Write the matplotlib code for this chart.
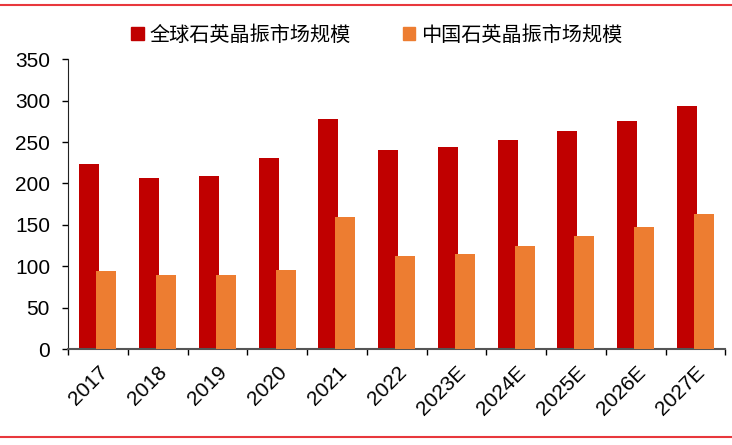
import matplotlib.pyplot as plt
import numpy as np
from matplotlib.lines import Line2D
from matplotlib.patches import Patch

plt.rcParams['font.family'] = ['Liberation Sans', 'Noto Sans CJK SC', 'DejaVu Sans']

years = ['2017', '2018', '2019', '2020', '2021', '2022',
         '2023E', '2024E', '2025E', '2026E', '2027E']
global_size = [223, 207, 209, 231, 278, 240, 244, 252, 264, 276, 293]
china_size = [94, 89, 90, 96, 159, 112, 115, 124, 136, 147, 163]
labels = ['全球石英晶振市场规模', '中国石英晶振市场规模']

RED = '#C00000'
ORANGE = '#ED7D31'
LINE_RED = '#E8383D'

fig = plt.figure(figsize=(7.32, 4.45), dpi=100)
ax = fig.add_axes([0.093, 0.2157, 0.898, 0.651])

x = np.arange(len(years))
w = 0.335
ax.bar(x - 0.145, global_size, width=w, color=RED, zorder=2)
ax.bar(x + 0.14, china_size, width=w, color=ORANGE, zorder=3)

ax.set_xlim(-0.5, len(years) - 0.5)
ax.set_ylim(0, 350)
ax.set_yticks(range(0, 351, 50))
ax.tick_params(axis='y', labelsize=15, length=4.5, width=1, direction='out', pad=8.5)
ax.set_xticks(x)
ax.set_xticklabels(years, rotation=45, ha='right', rotation_mode='anchor', fontsize=15)
ax.tick_params(axis='x', which='major', length=0, pad=10)
ax.set_xticks(np.arange(-0.5, len(years), 1), minor=True)
ax.tick_params(axis='x', which='minor', length=4, width=1, direction='out')

for s in ['top', 'right']:
    ax.spines[s].set_visible(False)
ax.spines['left'].set_color('#222222')
ax.spines['bottom'].set_color('#555555')
ax.spines['bottom'].set_linewidth(1.5)

handles = [Patch(color=RED), Patch(color=ORANGE)]
leg = fig.legend(handles, labels, loc='center', bbox_to_anchor=(0.515, 0.921), ncol=2,
                 frameon=False, handlelength=0.6, handleheight=0.6, handletextpad=0.3,
                 columnspacing=2.6, prop={'family': ['Noto Sans CJK SC'], 'size': 14.5})

fig.add_artist(Line2D([0, 1], [0.989, 0.989], color=LINE_RED, lw=1.5, transform=fig.transFigure))
fig.add_artist(Line2D([0, 1], [0.018, 0.018], color=LINE_RED, lw=1.5, transform=fig.transFigure))

fig.savefig('out.png', dpi=100)
